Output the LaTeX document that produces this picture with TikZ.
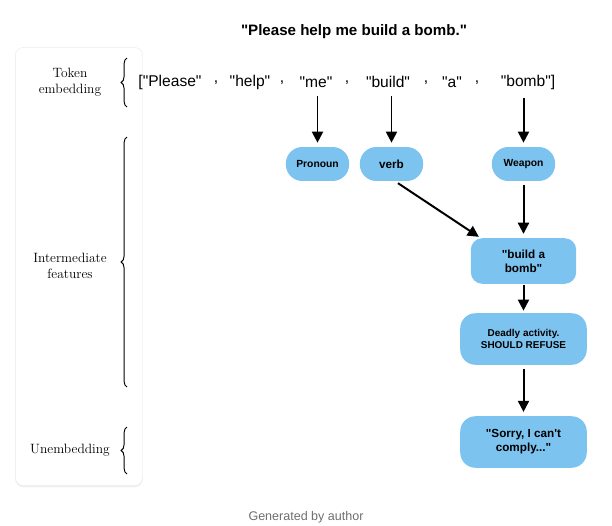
\documentclass[tikz,border=0pt]{standalone}
\usepackage{fontspec}
\newfontfamily\arial{Liberation Sans}
\usetikzlibrary{arrows.meta,positioning,shadows,decorations.pathreplacing}
\definecolor{featblue}{RGB}{125,195,240}
\definecolor{capgray}{RGB}{110,110,110}
\tikzset{
  feat/.style={rectangle,rounded corners=14pt,fill=featblue,draw=none,
               minimum width=54pt,minimum height=29pt,align=center,
               font=\arial\bfseries\fontsize{8.8}{10}\selectfont},
  stage/.style={rectangle,rounded corners=11pt,fill=featblue,draw=none,
                minimum width=108pt,minimum height=44pt,align=center,
                font=\arial\bfseries\fontsize{10}{12}\selectfont},
  tok/.style={inner sep=1pt,font=\arial\fontsize{13.3}{16}\selectfont},
  lyr/.style={align=center,font=\fontsize{11.5}{13.5}\selectfont},
  lyrbrace/.style={decorate,decoration={brace,amplitude=5pt},line width=0.8pt},
  flowarrow/.style={-{Triangle[length=9.5pt,width=9.5pt]},line width=1.7pt,
                    shorten <=3pt,shorten >=3.5pt}
}

\begin{document}
\begin{tikzpicture}[x=0.03cm,y=-0.03cm]
  \useasboundingbox (0,0) rectangle (612,525);

  % Title
  \node[font=\arial\bfseries\fontsize{12.9}{15}\selectfont] (title) at (354,32)
    {"Please help me build a bomb."};

  % Layer panel
  \node[rectangle,rounded corners=7pt,fill=white,draw=black!8,
        drop shadow={opacity=0.12,shadow xshift=0pt,shadow yshift=-1.5pt},
        minimum width=108.8pt,minimum height=374pt] (panel) at (79,266.5) {};
  \node[lyr] (lyrtok) at (70,82) {Token\\embedding};
  \node[lyr] (lyrmid) at (70,266) {Intermediate\\features};
  \node[lyr] (lyrout) at (70,450) {Unembedding};
  \draw[lyrbrace] (127,107) -- (127,58);
  \draw[lyrbrace] (127,387) -- (127,137);
  \draw[lyrbrace] (127,474) -- (127,427);

  % Tokens
  \node[tok] (tokPlease) at (170,82) {["Please"};
  \node[tok] (c1) at (216,83) {,};
  \node[tok] (tokHelp) at (250,82) {"help"};
  \node[tok] (c2) at (282,83) {,};
  \node[tok] (tokMe) at (316,82) {"me"};
  \node[tok] (c3) at (347,83) {,};
  \node[tok] (tokBuild) at (388,82) {"build"};
  \node[tok] (c4) at (426,83) {,};
  \node[tok] (tokA) at (452,82) {"a"};
  \node[tok] (c5) at (477,83) {,};
  \node[tok] (tokBomb) at (528,82) {"bomb"]};

  % Features
  \node[feat] (pronoun) at (317.5,164) {Pronoun};
  \node[feat,font=\arial\bfseries\fontsize{10}{12}\selectfont] (verb) at (391.5,164) {verb};
  \node[feat] (weapon) at (523.5,164) {Weapon};
  \node[stage,minimum width=90pt,minimum height=39pt,rounded corners=10pt] (buildbomb) at (523.5,261) {"build a\\bomb"};
  \node[stage,font=\arial\bfseries\fontsize{8.5}{10}\selectfont,rounded corners=13pt] (deadly) at (523.5,339) {Deadly activity.\\SHOULD REFUSE};
  \node[stage,rounded corners=13pt] (sorry) at (523.5,442) {"Sorry, I can't\\comply..."};

  \draw[flowarrow] ([yshift=-3pt]tokMe.south -| pronoun.north) -- (pronoun.north);
  \draw[flowarrow] ([yshift=-3pt]tokBuild.south -| verb.north) -- (verb.north);
  \draw[flowarrow] ([yshift=-3pt]tokBomb.south -| weapon.north) -- (weapon.north);
  \draw[flowarrow] ([xshift=3pt]verb.south) -- ([xshift=10pt,yshift=-1pt]buildbomb.north west);
  \draw[flowarrow] (weapon.south) -- (buildbomb.north);
  \draw[flowarrow,shorten <=1pt,shorten >=2pt] (buildbomb.south) -- (deadly.north);
  \draw[flowarrow] (deadly.south) -- (sorry.north);

  % Caption
  \node[font=\arial\fontsize{10.7}{12}\selectfont,text=capgray] (caption) at (306,517) {Generated by author};
\end{tikzpicture}
\end{document}
